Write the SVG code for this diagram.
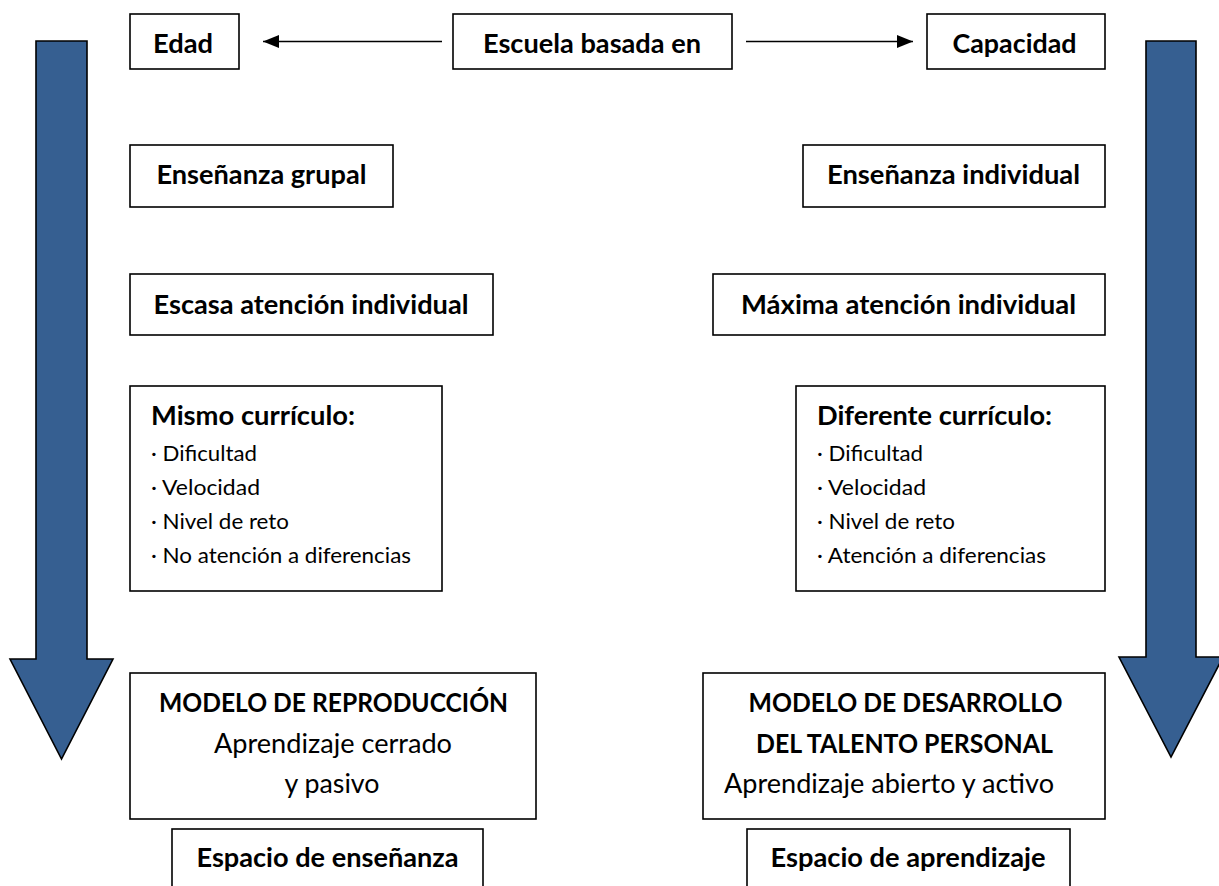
<svg xmlns="http://www.w3.org/2000/svg" width="1219" height="886" viewBox="0 0 1219 886">
<style>
  .box{fill:#fff;stroke:#000;stroke-width:1.6}
  .b{font-family:Lato,"Liberation Sans",sans-serif;font-weight:700;font-size:26px;fill:#000}
  .r{font-family:Lato,"Liberation Sans",sans-serif;font-weight:400;font-size:26px;fill:#000}
  .i{font-family:Lato,"Liberation Sans",sans-serif;font-weight:400;font-size:21.5px;fill:#000}
  .m{text-anchor:middle}
  .big{fill:#365F91;stroke:#000;stroke-width:1.6;stroke-linejoin:miter}
  .link{stroke:#000;stroke-width:1.6;fill:none}
</style>
<defs>
  <marker id="ah" markerUnits="userSpaceOnUse" markerWidth="17" markerHeight="14" refX="16" refY="7" orient="auto">
    <path d="M0,0.5 L16,7 L0,13.5 z" fill="#000"/>
  </marker>
</defs>
<rect width="1219" height="886" fill="#fff"/>

<g id="big-arrows">
  <path class="big" d="M36,41 L87,41 L87,659 L113,659 L61.5,759 L10,659 L36,659 Z"/>
  <path class="big" d="M1146,41 L1196,41 L1196,657 L1223,657 L1171,757 L1119,657 L1146,657 Z"/>
</g>

<g id="connectors">
  <line class="link" x1="442" y1="41.5" x2="263" y2="41.5" marker-end="url(#ah)"/>
  <line class="link" x1="746" y1="41.5" x2="913" y2="41.5" marker-end="url(#ah)"/>
</g>

<g id="edad">
  <rect class="box" x="130" y="14" width="109" height="55"/>
  <text class="b m" x="183" y="53" textLength="60" lengthAdjust="spacingAndGlyphs">Edad</text>
</g>
<g id="escuela">
  <rect class="box" x="453" y="14" width="279" height="55"/>
  <text class="b m" x="592" y="53" textLength="218" lengthAdjust="spacingAndGlyphs">Escuela basada en</text>
</g>
<g id="capacidad">
  <rect class="box" x="927" y="14" width="178" height="55"/>
  <text class="b m" x="1014.5" y="53" textLength="124" lengthAdjust="spacingAndGlyphs">Capacidad</text>
</g>

<g id="ensenanza-grupal">
  <rect class="box" x="130" y="145" width="263" height="62"/>
  <text class="b m" x="261.5" y="184" textLength="210" lengthAdjust="spacingAndGlyphs">Enseñanza grupal</text>
</g>
<g id="ensenanza-individual">
  <rect class="box" x="803" y="145" width="302" height="62"/>
  <text class="b m" x="953.5" y="184" textLength="253" lengthAdjust="spacingAndGlyphs">Enseñanza individual</text>
</g>

<g id="escasa-atencion">
  <rect class="box" x="130" y="274" width="363" height="61"/>
  <text class="b m" x="311" y="314" textLength="315" lengthAdjust="spacingAndGlyphs">Escasa atención individual</text>
</g>
<g id="maxima-atencion">
  <rect class="box" x="713" y="274" width="392" height="61"/>
  <text class="b m" x="908.5" y="314" textLength="335" lengthAdjust="spacingAndGlyphs">Máxima atención individual</text>
</g>

<g id="mismo-curriculo">
  <rect class="box" x="130" y="386" width="312" height="205"/>
  <text class="b" x="151" y="425" textLength="204" lengthAdjust="spacingAndGlyphs">Mismo currículo:</text>
  <text class="i" x="151" y="461" textLength="106" lengthAdjust="spacingAndGlyphs">· Dificultad</text>
  <text class="i" x="151" y="495" textLength="109" lengthAdjust="spacingAndGlyphs">· Velocidad</text>
  <text class="i" x="151" y="529" textLength="138" lengthAdjust="spacingAndGlyphs">· Nivel de reto</text>
  <text class="i" x="151" y="563" textLength="260" lengthAdjust="spacingAndGlyphs">· No atención a diferencias</text>
</g>
<g id="diferente-curriculo">
  <rect class="box" x="796" y="386" width="309" height="205"/>
  <text class="b" x="817" y="425" textLength="235" lengthAdjust="spacingAndGlyphs">Diferente currículo:</text>
  <text class="i" x="817" y="461" textLength="106" lengthAdjust="spacingAndGlyphs">· Dificultad</text>
  <text class="i" x="817" y="495" textLength="109" lengthAdjust="spacingAndGlyphs">· Velocidad</text>
  <text class="i" x="817" y="529" textLength="138" lengthAdjust="spacingAndGlyphs">· Nivel de reto</text>
  <text class="i" x="817" y="563" textLength="229" lengthAdjust="spacingAndGlyphs">· Atención a diferencias</text>
</g>

<g id="modelo-reproduccion">
  <rect class="box" x="130" y="673" width="406" height="146"/>
  <text class="b m" x="333.5" y="712" textLength="349" lengthAdjust="spacingAndGlyphs">MODELO DE REPRODUCCIÓN</text>
  <text class="r m" x="333" y="753" textLength="238" lengthAdjust="spacingAndGlyphs">Aprendizaje cerrado</text>
  <text class="r m" x="332" y="793" textLength="95" lengthAdjust="spacingAndGlyphs">y pasivo</text>
</g>
<g id="modelo-desarrollo">
  <rect class="box" x="703" y="673" width="402" height="146"/>
  <text class="b m" x="905.5" y="712" textLength="314" lengthAdjust="spacingAndGlyphs">MODELO DE DESARROLLO</text>
  <text class="b m" x="904.5" y="753" textLength="297" lengthAdjust="spacingAndGlyphs">DEL TALENTO PERSONAL</text>
  <text class="r m" x="889" y="793" textLength="330" lengthAdjust="spacingAndGlyphs">Aprendizaje abierto y activo</text>
</g>

<g id="espacio-ensenanza">
  <rect class="box" x="172" y="829" width="311" height="80"/>
  <text class="b m" x="327.5" y="867" textLength="262" lengthAdjust="spacingAndGlyphs">Espacio de enseñanza</text>
</g>
<g id="espacio-aprendizaje">
  <rect class="box" x="747" y="829" width="323" height="80"/>
  <text class="b m" x="908" y="867" textLength="275" lengthAdjust="spacingAndGlyphs">Espacio de aprendizaje</text>
</g>
</svg>
